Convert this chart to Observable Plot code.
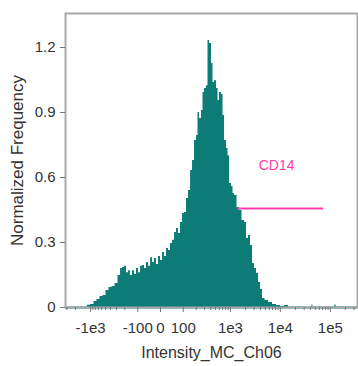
<!DOCTYPE html>
<html><head><meta charset="utf-8">
<script src="https://cdn.jsdelivr.net/npm/d3@7"></script>
<script src="https://cdn.jsdelivr.net/npm/@observablehq/plot@0.6"></script>
<style>
body{margin:0;background:#fff}
svg{font-family:Arial,"Liberation Sans",sans-serif}
#chart g[aria-label$="tick label"], #chart g[aria-label$="tick label"] text{font-size:15px !important;}
</style>
</head><body><div id="chart"></div>
<script>
// Histogram: intensity (bin position) and normalized frequency
const intensity = [-3187,-1210,-1103,-917,-798,-695,-604,-526,-457,-397,-344,-299,-258,-234,-213,-193,-174,-158,-142,-127,-114,-102,-90,-79,-69,-60,-51,-42,-34,-26,-19,-11,-4,4,11,19,26,34,42,51,60,69,79,90,102,114,127,142,158,174,193,213,223,246,271,285,313,344,361,397,435,457,502,551,577,633,695,727,798,875,917,1006,1103,1155,1266,1455,1595,1832,2008,2202,2415,2650,2906,3187,3495,3832,4202,4608,5290,6360,7645,9200,11060,13300,15990,42000,44000,46000,120000,127000,134000,350000];
const frequency = [0,0,0.01,0.014,0.028,0.037,0.051,0.055,0.078,0.092,0.097,0.111,0.148,0.18,0.185,0.19,0.16,0.17,0.148,0.17,0.152,0.18,0.16,0.19,0.194,0.18,0.208,0.19,0.23,0.208,0.226,0.198,0.235,0.217,0.254,0.235,0.272,0.263,0.295,0.31,0.346,0.365,0.341,0.392,0.434,0.438,0.503,0.54,0.632,0.678,0.771,0.794,0.9,0.872,0.909,0.992,1.011,1.024,1.232,1.218,1.126,1.038,1.047,1.011,0.955,0.992,0.983,0.886,0.771,0.734,0.701,0.572,0.558,0.526,0.517,0.461,0.448,0.401,0.392,0.318,0.332,0.286,0.203,0.18,0.157,0.115,0.083,0.042,0.032,0.023,0.014,0.009,0.005,0.009,0,0,0.012,0,0,0.012,0,0];

const xDomain = [-3187, 350000];
const yDomain = [0, 1.357];
const majorTicks = [-1000,-100,0,100,1000,10000,100000];
const majorLabels = ["-1e3","-100","0","100","1e3","1e4","1e5"];
const minorTicks = [-3000,-2000,-900,-800,-700,-600,-500,-400,-300,-200,200,300,400,500,600,700,800,900,2000,3000,4000,5000,6000,7000,8000,9000,20000,30000,40000,50000,60000,70000,80000,90000,200000,300000];
const yTicks = [0,0.3,0.6,0.9,1.2];
const yLabels = ["0","0.3","0.6","0.9","1.2"];
const gateName = "CD14";
const gateRange = [1400, 73000];
const gateLevel = 0.457;
const gateLabelPos = [8400, 0.655];
const xLabel = "Intensity_MC_Ch06";
const yLabel = "Normalized Frequency";

const C = 80;
const t = v => Math.asinh(v / C);
const data = intensity.map((x, i) => ({x: t(x), f: frequency[i]}));
const majorT = majorTicks.map(t);
const labelMap = new Map(majorT.map((v, i) => [v, majorLabels[i]]));
const yLabelMap = new Map(yTicks.map((v, i) => [v, yLabels[i]]));

const teal = "#0d7c77";
const pink = "#ff40a8";

const chart = Plot.plot({
  width: 358, height: 366,
  marginLeft: 65, marginTop: 13, marginRight: 1, marginBottom: 59,
  style: {fontFamily: "Arial, 'Liberation Sans', sans-serif", color: "#333"},
  x: {type: "linear", domain: xDomain.map(t)},
  y: {domain: yDomain},
  marks: [
    Plot.areaY(data, {x: "x", y: "f", curve: "step", fill: teal}),
    Plot.ruleY([0], {stroke: teal, strokeWidth: 2}),
    Plot.frame({stroke: "#a9a9a9", strokeWidth: 2}),
    Plot.axisX(minorTicks.map(t), {tickSize: 3, tickFormat: () => "", stroke: "#777", label: null}),
    Plot.axisX(majorT, {tickSize: 5, tickPadding: 10, tickFormat: v => labelMap.get(v), stroke: "#777", fill: "#333", label: null}),
    Plot.axisX({ticks: [], label: xLabel, labelAnchor: "center", labelArrow: "none", labelOffset: 50, fontSize: 16, fill: "#333"}),
    Plot.axisY(yTicks, {tickSize: 5, tickPadding: 5, tickFormat: v => yLabelMap.get(v), stroke: "#777", fill: "#333", label: null}),
    Plot.axisY({ticks: [], label: yLabel, labelAnchor: "center", labelArrow: "none", labelOffset: 55, fontSize: 17, fill: "#333"}),
    Plot.ruleY([gateLevel], {x1: t(gateRange[0]), x2: t(gateRange[1]), stroke: pink, strokeWidth: 2}),
    Plot.text([gateName], {x: t(gateLabelPos[0]), y: gateLabelPos[1], fill: pink, fontSize: 14})
  ]
});
document.getElementById("chart").append(chart);
</script>
</body></html>
